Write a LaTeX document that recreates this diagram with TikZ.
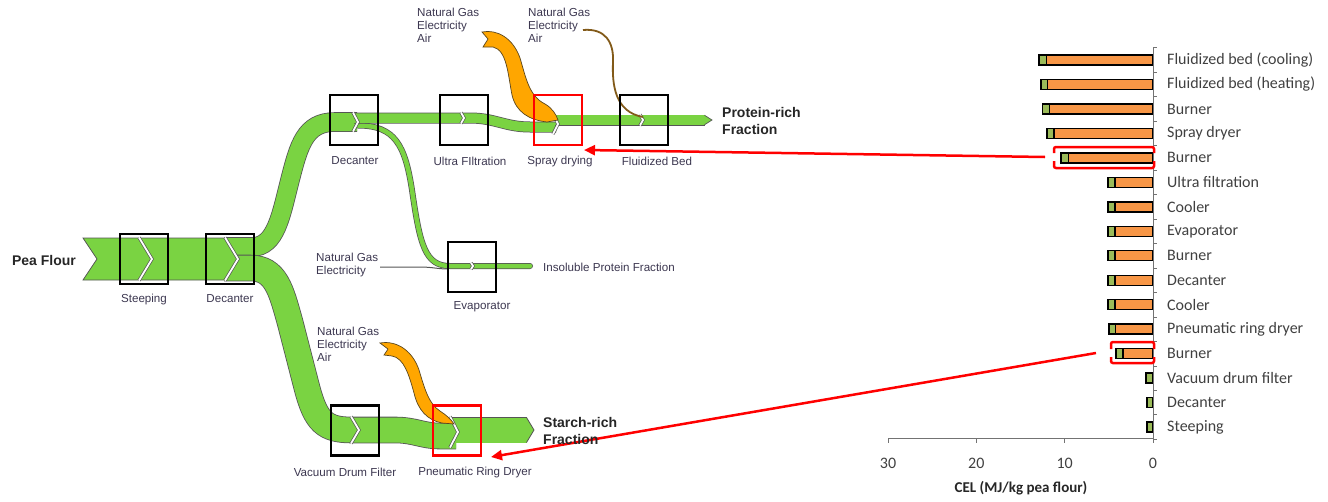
\documentclass[tikz,border=0pt]{standalone}
\usepackage{fontspec}
\setmainfont{Liberation Sans}
\newfontfamily\calib{Carlito}
\usetikzlibrary{arrows.meta}
\definecolor{flowgreen}{RGB}{122,211,66}
\definecolor{flowedge}{RGB}{85,85,85}
\definecolor{flowor}{RGB}{255,166,0}
\definecolor{oredge}{RGB}{90,70,30}
\definecolor{barorange}{RGB}{247,150,70}
\definecolor{bargreen}{RGB}{155,187,89}
\definecolor{labelc}{RGB}{60,55,80}
\definecolor{chartc}{RGB}{64,64,64}
\definecolor{brownl}{RGB}{130,90,25}
\newcommand\flowband[3]{\draw[flowedge,line width=#2] #3; \draw[flowgreen,line width=#1] #3;}
\newcommand\chevgap[4]{%
  \draw[flowedge,line width=3.2pt,line join=miter] ({#1-#4},{#2-#3}) -- (#1,#2) -- ({#1-#4},{#2+#3});
  \draw[white,line width=1.8pt,line join=miter] ({#1-#4},{#2-#3}) -- (#1,#2) -- ({#1-#4},{#2+#3});}
\tikzset{
  lbl/.style={font=\fontsize{11.6}{13}\selectfont, text=labelc, inner sep=0pt},
  multilbl/.style={lbl, align=left, anchor=north west},
  boldlbl/.style={font=\fontsize{14}{17}\selectfont\bfseries, text=black!85, align=left, inner sep=0pt},
  unitbox/.style={draw=black, line width=2.2pt, minimum width=48pt, minimum height=50pt, inner sep=0pt},
  hotbox/.style={unitbox, draw=red},
  orflow/.style={fill=flowor, draw=oredge, line width=0.7pt},
  barlbl/.style={font=\calib\fontsize{16}{18}\selectfont, text=chartc, inner sep=0pt, anchor=west},
  ticklbl/.style={font=\calib\fontsize{16}{18}\selectfont, text=chartc, inner sep=0pt},
  hilite/.style={draw=red, line width=2.5pt, rounded corners=2pt},
  redarrow/.style={draw=red, line width=2.5pt, -{Triangle[length=11pt,width=10pt]}},
}
\begin{document}
\begin{tikzpicture}[x=1pt,y=-1pt]
\useasboundingbox (0,0) rectangle (1328,501);
% ---------- green flows ----------
\flowband{18pt}{19.6pt}{(224,247) -- (252,247) .. controls (276,247) and (281,215) .. (290,180) .. controls (299,145) and (305,122) .. (335,122) -- (357,122)}
\flowband{25pt}{26.6pt}{(224,268) -- (250,268) .. controls (276,268) and (281,290) .. (290,322) -- (307,388) .. controls (316,422) and (325,430) .. (352,430) -- (395,430) .. controls (415,430) and (422,436) .. (440,436) -- (456,436)}
\flowband{25pt}{26.6pt}{(452,430) -- (527,430)}
\fill[flowgreen] (526.5,417.5) -- (534,430) -- (526.5,442.5) -- cycle;
\draw[flowedge,line width=0.8pt] (526.5,417.5) -- (534,430) -- (526.5,442.5);
\fill[flowgreen] (83,238) -- (97,259) -- (83,280) -- (225,280) -- (238,259) -- (225,238) -- cycle;
\draw[flowedge,line width=0.8pt] (225,238) -- (83,238) -- (97,259) -- (83,280) -- (225,280);
% evaporator branch
\begin{scope}[line cap=round]
\flowband{4.5pt}{6pt}{(358,125.5) .. controls (395,125.5) and (405,145) .. (412,190) .. controls (420,245) and (425,266) .. (450,266) -- (530,266)}
\end{scope}
% protein line
\flowband{9.5pt}{11pt}{(354,118) -- (470,118) .. controls (495,118) and (505,127) .. (530,127) -- (556,127)}
\flowband{9.5pt}{11pt}{(555,120) -- (705,120)}
\fill[flowgreen] (704.5,115.25) -- (712,120) -- (704.5,124.75) -- cycle;
\draw[flowedge,line width=0.7pt] (704.5,115.25) -- (712,120) -- (704.5,124.75);
% chevron gaps
\chevgap{152}{259}{21.5}{13}
\chevgap{238}{259}{21.5}{13}
\chevgap{358}{122}{9.5}{5}
\chevgap{464}{118}{5.5}{3}
\chevgap{558}{124}{10}{5}
\chevgap{643}{120}{5.5}{3}
\chevgap{473}{266}{3.2}{2}
\chevgap{359}{430}{13.5}{8}
\chevgap{458}{432}{15.5}{8}
% ---------- supplies ----------
\path[orflow] (482,32) .. controls (497,29) and (513,38) .. (520,58) .. controls (526,78) and (529,96) .. (545,104) .. controls (552,108) and (556,114) .. (558,120)
  -- (547,122) .. controls (529,120) and (516,112) .. (512,95) .. controls (508,75) and (507,50) .. (493,47)
  -- (483,47) -- (488,39) -- cycle;
\path[orflow] (380,343) .. controls (398,340) and (413,352) .. (419,370) .. controls (425,390) and (429,404) .. (440,411) .. controls (446,415) and (451,419) .. (454,424)
  -- (442,423) .. controls (427,420) and (418,410) .. (414,393) .. controls (409,375) and (404,358) .. (392,356)
  -- (384,355) -- (388,349) -- cycle;
\draw[brownl,line width=1.8pt] (583,30) .. controls (605,28) and (614,42) .. (613,62) .. controls (612,85) and (615,112) .. (643,117);
\draw[flowedge,line width=1pt] (380,267) -- (420,267) .. controls (432,267) and (438,269) .. (448,269);
% ---------- unit boxes ----------
\node[unitbox] (steep) at (144,259) {};
\node[unitbox] (dec1) at (230,259) {};
\node[unitbox] (dec2) at (354,120) {};
\node[unitbox] (uf) at (464,120) {};
\node[hotbox] (sd) at (558,120) {};
\node[unitbox] (fb) at (644,120) {};
\node[unitbox] (evap) at (472,267) {};
\node[unitbox] (vdf) at (355,430.5) {};
\node[hotbox] (prd) at (457,430.5) {};
% ---------- labels ----------
\node[boldlbl] (pea) at (44,260) {Pea Flour};
\node[lbl] (lsteep) at (144,299) {Steeping};
\node[lbl] (ldec1) at (230,299) {Decanter};
\node[lbl] (ldec2) at (355,161) {Decanter};
\node[lbl] (luf) at (470,161) {Ultra FIltration};
\node[lbl] (lsd) at (560,161) {Spray drying};
\node[lbl] (lfb) at (657,161) {Fluidized Bed};
\node[lbl] (levap) at (482,307) {Evaporator};
\node[lbl] (lvdf) at (345,472) {Vacuum Drum Filter};
\node[lbl] (lprd) at (475,472) {Pneumatic Ring Dryer};
\node[lbl,anchor=west] (lins) at (543,267) {Insoluble Protein Fraction};
\node[multilbl] (in1) at (417,7.5) {Natural Gas\\Electricity\\Air};
\node[multilbl] (in2) at (528,7.5) {Natural Gas\\Electricity\\Air};
\node[multilbl] (in3) at (316,252.5) {Natural Gas\\Electricity};
\node[multilbl] (in4) at (317,326.5) {Natural Gas\\Electricity\\Air};
\node[boldlbl,anchor=north west] (prot) at (722,107.5) {Protein-rich\\Fraction};
% ---------- bar chart ----------
\foreach \v/\lab [count=\i from 0] in {12.9/Fluidized bed (cooling),12.7/Fluidized bed (heating),12.5/Burner,12.0/Spray dryer,10.4/Burner,5.1/Ultra filtration,5.1/Cooler,5.1/Evaporator,5.1/Burner,5.1/Decanter,5.1/Cooler,5.0/Pneumatic ring dryer,4.2/Burner,0.8/Vacuum drum filter,0.7/Decanter,0.7/Steeping}{
  \pgfmathsetmacro\yy{60+24.47*\i}
  \pgfmathsetmacro\xl{1153-8.83*\v}
  \pgfmathsetmacro\xg{min(\xl+7,1153)}
  \fill[barorange] (\xl,{\yy-5}) rectangle (1153,{\yy+5});
  \fill[bargreen] (\xl,{\yy-5}) rectangle (\xg,{\yy+5});
  \draw[black,line width=1.4pt] (\xl,{\yy-5}) rectangle (1153,{\yy+5});
  \draw[black,line width=1.2pt] (\xg,{\yy-5}) -- (\xg,{\yy+5});
  \node[barlbl] (cat\i) at (1167,\yy) {\lab};
}
\draw[black!55,line width=1pt] (1153,47.8) -- (1153,438) -- (888,438);
\foreach \k in {0,...,16}{\draw[black!55,line width=0.8pt] (1153,{47.8+24.47*\k}) -- (1157,{47.8+24.47*\k});}
\foreach \t/\xx in {30/888,20/976.3,10/1064.7,0/1153}{
  \draw[black!55,line width=0.8pt] (\xx,438) -- (\xx,443);
  \node[ticklbl] (t\t) at (\xx,463) {\t};
}
\node[ticklbl,font=\calib\fontsize{15}{18}\selectfont\bfseries,text=black!85] (axt) at (1021,488) {CEL (MJ/kg pea flour)};
% highlights
\draw[hilite] (1054,153) -- (1054,147) -- (1154,147) -- (1154,153);
\draw[hilite] (1054,161) -- (1054,168) -- (1154,168) -- (1154,161);
\draw[hilite] (1111,349) -- (1111,342) -- (1154,342) -- (1154,349);
\draw[hilite] (1111,357) -- (1111,363) -- (1154,363) -- (1154,357);
\coordinate (a1s) at (1045,157);
\coordinate (a1e) at (584,150);
\coordinate (a2s) at (1096,353);
\coordinate (a2e) at (491,457);
\draw[redarrow] (a1s) -- (a1e);
\draw[redarrow] (a2s) -- (a2e);
\node[boldlbl,anchor=north west] (starch) at (543,417.5) {Starch-rich\\Fraction};
\end{tikzpicture}
\end{document}
